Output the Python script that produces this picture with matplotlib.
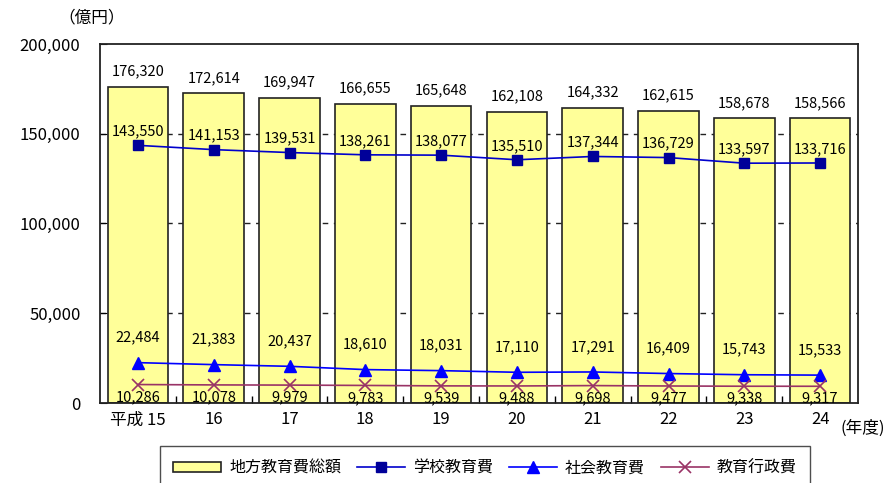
import matplotlib
matplotlib.use("Agg")

import matplotlib.pyplot as plt
import numpy as np
from matplotlib.ticker import FuncFormatter, FixedLocator

plt.rcParams["font.family"] = ["Noto Sans CJK JP", "DejaVu Sans"]

# ── Data (億円) ─────────────────────────────────────────────
years = ["平成 15", "16", "17", "18", "19", "20", "21", "22", "23", "24"]
total = [176320, 172614, 169947, 166655, 165648, 162108, 164332, 162615, 158678, 158566]
school = [143550, 141153, 139531, 138261, 138077, 135510, 137344, 136729, 133597, 133716]
social = [22484, 21383, 20437, 18610, 18031, 17110, 17291, 16409, 15743, 15533]
admin = [10286, 10078, 9979, 9783, 9539, 9488, 9698, 9477, 9338, 9317]

x = np.arange(len(years))

fig = plt.figure(figsize=(8.88, 4.83), dpi=100)
ax = fig.add_axes([100 / 888, 1 - 403 / 483, 758 / 888, 359 / 483])

ax.bar(x, total, width=0.8, color="#FFFF99", edgecolor="#222222", linewidth=1.2,
       label="地方教育費総額", zorder=2)
ax.plot(x, school, color="#0000CC", marker="s", markersize=7, markerfacecolor="#000099",
        markeredgecolor="#000099", linewidth=1.2, label="学校教育費", zorder=3)
ax.plot(x, social, color="#0000FF", marker="^", markersize=8, markerfacecolor="#0000FF",
        markeredgecolor="#0000FF", linewidth=1.2, label="社会教育費", zorder=3)
ax.plot(x, admin, color="#993366", marker="x", markersize=8, markeredgewidth=1.2,
        linewidth=1.2, label="教育行政費", zorder=3)

fmt = lambda v: f"{v:,}"
fs = 10.5
for i in range(len(years)):
    ax.annotate(fmt(total[i]), (x[i], total[i]), xytext=(0, 6), textcoords="offset points",
                ha="center", va="bottom", fontsize=fs, zorder=4)
    ax.annotate(fmt(school[i]), (x[i], school[i]), xytext=(0, 10), textcoords="offset points",
                ha="center", va="center", fontsize=fs, zorder=4)
    ax.annotate(fmt(social[i]), (x[i], social[i]), xytext=(0, 18), textcoords="offset points",
                ha="center", va="center", fontsize=fs, zorder=4)
    ax.annotate(fmt(admin[i]), (x[i], admin[i]), xytext=(0, -9), textcoords="offset points",
                ha="center", va="center", fontsize=fs, zorder=4)

ax.set_xlim(-0.5, len(years) - 0.5)
ax.set_ylim(0, 200000)
ax.set_yticks([0, 50000, 100000, 150000, 200000])
ax.yaxis.set_major_formatter(FuncFormatter(lambda v, p: f"{int(v):,}"))
for yv in (50000, 100000, 150000):
    ax.axhline(yv, color="#222222", linestyle=(0, (4, 4)), linewidth=1.0, zorder=1)

ax.set_xticks(x)
ax.set_xticklabels(years)
ax.xaxis.set_minor_locator(FixedLocator(x[:-1] + 0.5))
ax.tick_params(axis="x", which="major", length=0, pad=6, labelsize=12)
ax.tick_params(axis="x", which="minor", direction="in", length=5, width=1)
ax.tick_params(axis="y", direction="in", length=5, labelsize=12, pad=14)
for s in ax.spines.values():
    s.set_linewidth(1.3)
    s.set_color("#222222")

fig.text(58 / 888, 1 - 18 / 483, "（億円）", fontsize=12, ha="left", va="center")
fig.text(885 / 888, 1 - 428 / 483, "(年度)", fontsize=12, ha="right", va="center")

handles, labels = ax.get_legend_handles_labels()
order = [labels.index(n) for n in ["地方教育費総額", "学校教育費", "社会教育費", "教育行政費"]]
leg = fig.legend([handles[k] for k in order], [labels[k] for k in order],
                 loc="lower center", bbox_to_anchor=(485 / 888, -14 / 483), ncol=4,
                 frameon=True, fancybox=False, edgecolor="#222222", fontsize=11.5,
                 handlelength=3.0, handleheight=0.6, handletextpad=0.5,
                 columnspacing=1.0, borderpad=0.8)
leg.get_frame().set_linewidth(1.0)

fig.savefig("out.png", dpi=100)
